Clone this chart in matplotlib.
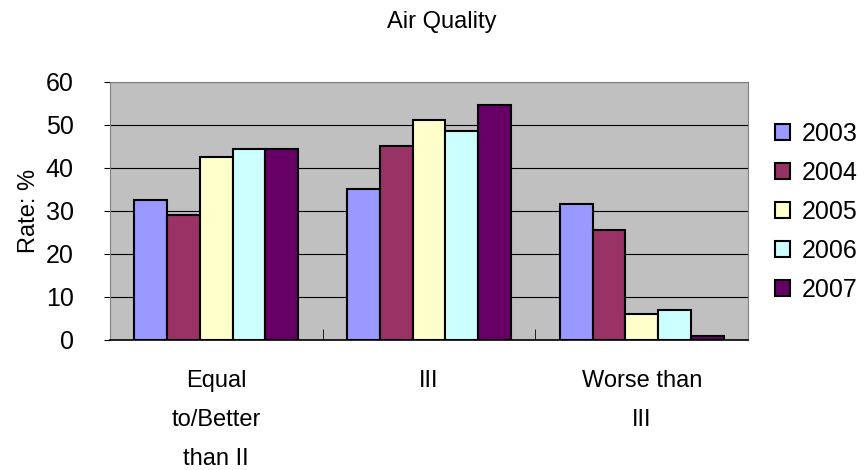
import numpy as np
import matplotlib.pyplot as plt

plt.rcParams['font.family'] = ['Liberation Sans', 'DejaVu Sans']

categories = ["Equal\nto/Better\nthan II", "III", "Worse than\nIII"]
years = ["2003", "2004", "2005", "2006", "2007"]
rate_2003 = [32.4, 35.1, 31.6]
rate_2004 = [29.0, 45.1, 25.5]
rate_2005 = [42.5, 51.2, 5.9]
rate_2006 = [44.3, 48.6, 6.9]
rate_2007 = [44.3, 54.7, 0.8]
series = [rate_2003, rate_2004, rate_2005, rate_2006, rate_2007]
colors = ["#9999FF", "#993366", "#FFFFCC", "#CCFFFF", "#660066"]

fig = plt.figure(figsize=(8.65, 4.7), dpi=100)
ax = fig.add_axes([0.127, 0.277, 0.738, 0.549])
ax.set_facecolor("#C0C0C0")

x = np.arange(len(categories))
bw = 0.77 / len(series)
for i, vals in enumerate(series):
    ax.bar(x - 0.385 + bw * (i + 0.5), vals, bw, color=colors[i],
           edgecolor="black", lw=1.5, label=years[i], zorder=3)

ax.set_xlim(-0.5, 2.5)
ax.set_ylim(0, 60)
ax.set_yticks(range(0, 61, 10))
ax.grid(axis="y", color="black", lw=0.8, zorder=1)
ax.set_xticks(x)
ax.set_xticklabels(categories, fontsize=17, linespacing=2.0)
ax.set_xticks([0.5, 1.5], minor=True)
ax.tick_params(axis="x", which="major", length=0, pad=22)
ax.tick_params(axis="x", which="minor", direction="in", length=8, color="black")
ax.tick_params(axis="y", labelsize=18, length=4, direction="out", pad=22)
for s in ["top", "right", "left"]:
    ax.spines[s].set_color("#808080")
ax.spines["bottom"].set_color("black")
ax.spines["bottom"].set_linewidth(1.2)

ax.set_ylabel("Rate: %", fontsize=17, labelpad=4)
fig.text(0.511, 0.953, "Air Quality", ha="center", va="center", fontsize=17)

fig.legend(loc="upper left", bbox_to_anchor=(0.884, 0.762), frameon=False,
           fontsize=18, handlelength=0.6, handleheight=0.6, handletextpad=0.5,
           labelspacing=0.6, borderaxespad=0)

fig.savefig("out.png")
